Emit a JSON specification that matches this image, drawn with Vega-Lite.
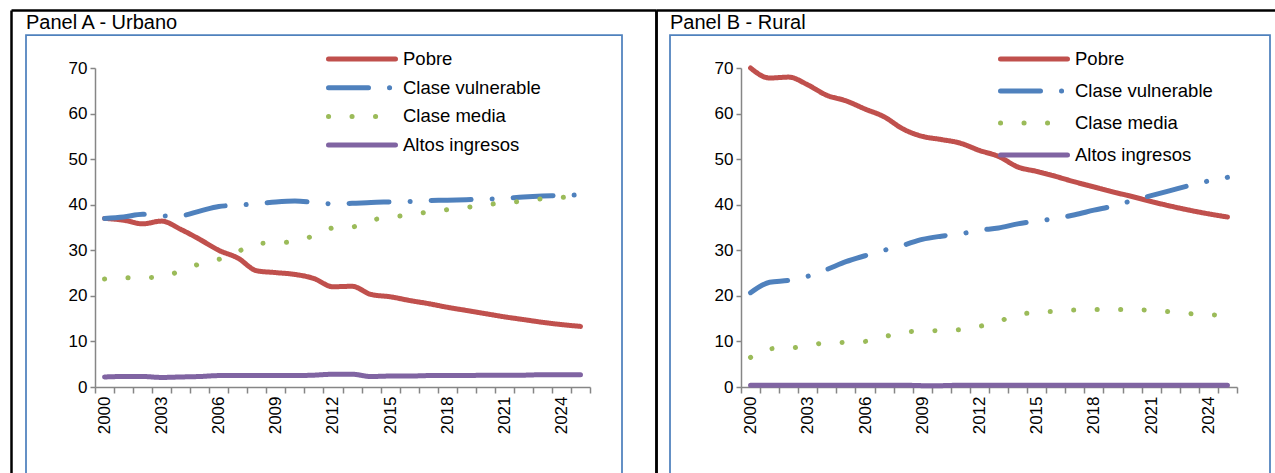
{
  "$schema": "https://vega.github.io/schema/vega-lite/v6.json",
  "background": "white",
  "padding": {"left": 8, "top": 7, "right": 0, "bottom": 0},
  "config": {
    "font": "Liberation Sans",
    "view": {"stroke": "#4F81BD", "strokeWidth": 1.75},
    "axis": {"labelFont": "Liberation Sans", "labelColor": "black", "labelFontSize": 17, "domainColor": "#868686", "tickColor": "#868686", "domainWidth": 1.5, "tickWidth": 1.5, "grid": false, "title": null},
    "legend": {"labelFont": "Liberation Sans", "labelColor": "black", "labelFontSize": 18.5, "labelLimit": 300}
  },
  "datasets": {
    "marco": [{"f": 0}, {"f": 1}],
    "urbano": [
      {"clase": "Pobre", "anio": 2000, "valor": 37.0}, {"clase": "Pobre", "anio": 2001, "valor": 36.6}, {"clase": "Pobre", "anio": 2002, "valor": 35.8}, {"clase": "Pobre", "anio": 2003, "valor": 36.4}, {"clase": "Pobre", "anio": 2004, "valor": 34.6}, {"clase": "Pobre", "anio": 2005, "valor": 32.4}, {"clase": "Pobre", "anio": 2006, "valor": 30.0}, {"clase": "Pobre", "anio": 2007, "valor": 28.3}, {"clase": "Pobre", "anio": 2008, "valor": 25.5}, {"clase": "Pobre", "anio": 2009, "valor": 25.1}, {"clase": "Pobre", "anio": 2010, "valor": 24.7}, {"clase": "Pobre", "anio": 2011, "valor": 23.8}, {"clase": "Pobre", "anio": 2012, "valor": 22.0}, {"clase": "Pobre", "anio": 2013, "valor": 22.1}, {"clase": "Pobre", "anio": 2014, "valor": 20.3}, {"clase": "Pobre", "anio": 2015, "valor": 19.8}, {"clase": "Pobre", "anio": 2016, "valor": 19.0}, {"clase": "Pobre", "anio": 2017, "valor": 18.3}, {"clase": "Pobre", "anio": 2018, "valor": 17.5}, {"clase": "Pobre", "anio": 2019, "valor": 16.8}, {"clase": "Pobre", "anio": 2020, "valor": 16.1}, {"clase": "Pobre", "anio": 2021, "valor": 15.4}, {"clase": "Pobre", "anio": 2022, "valor": 14.8}, {"clase": "Pobre", "anio": 2023, "valor": 14.2}, {"clase": "Pobre", "anio": 2024, "valor": 13.7}, {"clase": "Pobre", "anio": 2025, "valor": 13.3},
      {"clase": "Clase vulnerable", "anio": 2000, "valor": 37.0}, {"clase": "Clase vulnerable", "anio": 2001, "valor": 37.3}, {"clase": "Clase vulnerable", "anio": 2002, "valor": 37.9}, {"clase": "Clase vulnerable", "anio": 2003, "valor": 37.5}, {"clase": "Clase vulnerable", "anio": 2004, "valor": 37.6}, {"clase": "Clase vulnerable", "anio": 2005, "valor": 38.6}, {"clase": "Clase vulnerable", "anio": 2006, "valor": 39.6}, {"clase": "Clase vulnerable", "anio": 2007, "valor": 39.9}, {"clase": "Clase vulnerable", "anio": 2008, "valor": 40.2}, {"clase": "Clase vulnerable", "anio": 2009, "valor": 40.6}, {"clase": "Clase vulnerable", "anio": 2010, "valor": 40.8}, {"clase": "Clase vulnerable", "anio": 2011, "valor": 40.5}, {"clase": "Clase vulnerable", "anio": 2012, "valor": 40.2}, {"clase": "Clase vulnerable", "anio": 2013, "valor": 40.3}, {"clase": "Clase vulnerable", "anio": 2014, "valor": 40.5}, {"clase": "Clase vulnerable", "anio": 2015, "valor": 40.6}, {"clase": "Clase vulnerable", "anio": 2016, "valor": 40.7}, {"clase": "Clase vulnerable", "anio": 2017, "valor": 40.9}, {"clase": "Clase vulnerable", "anio": 2018, "valor": 41.0}, {"clase": "Clase vulnerable", "anio": 2019, "valor": 41.1}, {"clase": "Clase vulnerable", "anio": 2020, "valor": 41.2}, {"clase": "Clase vulnerable", "anio": 2021, "valor": 41.4}, {"clase": "Clase vulnerable", "anio": 2022, "valor": 41.7}, {"clase": "Clase vulnerable", "anio": 2023, "valor": 41.9}, {"clase": "Clase vulnerable", "anio": 2024, "valor": 42.0}, {"clase": "Clase vulnerable", "anio": 2025, "valor": 42.2},
      {"clase": "Clase media", "anio": 2000, "valor": 23.7}, {"clase": "Clase media", "anio": 2001, "valor": 24.0}, {"clase": "Clase media", "anio": 2002, "valor": 24.0}, {"clase": "Clase media", "anio": 2003, "valor": 24.2}, {"clase": "Clase media", "anio": 2004, "valor": 25.5}, {"clase": "Clase media", "anio": 2005, "valor": 27.0}, {"clase": "Clase media", "anio": 2006, "valor": 28.0}, {"clase": "Clase media", "anio": 2007, "valor": 29.7}, {"clase": "Clase media", "anio": 2008, "valor": 31.5}, {"clase": "Clase media", "anio": 2009, "valor": 31.6}, {"clase": "Clase media", "anio": 2010, "valor": 32.0}, {"clase": "Clase media", "anio": 2011, "valor": 33.2}, {"clase": "Clase media", "anio": 2012, "valor": 34.9}, {"clase": "Clase media", "anio": 2013, "valor": 35.1}, {"clase": "Clase media", "anio": 2014, "valor": 36.6}, {"clase": "Clase media", "anio": 2015, "valor": 37.2}, {"clase": "Clase media", "anio": 2016, "valor": 37.8}, {"clase": "Clase media", "anio": 2017, "valor": 38.4}, {"clase": "Clase media", "anio": 2018, "valor": 38.9}, {"clase": "Clase media", "anio": 2019, "valor": 39.4}, {"clase": "Clase media", "anio": 2020, "valor": 40.0}, {"clase": "Clase media", "anio": 2021, "valor": 40.4}, {"clase": "Clase media", "anio": 2022, "valor": 40.8}, {"clase": "Clase media", "anio": 2023, "valor": 41.3}, {"clase": "Clase media", "anio": 2024, "valor": 41.6}, {"clase": "Clase media", "anio": 2025, "valor": 42.0},
      {"clase": "Altos ingresos", "anio": 2000, "valor": 2.2}, {"clase": "Altos ingresos", "anio": 2001, "valor": 2.3}, {"clase": "Altos ingresos", "anio": 2002, "valor": 2.3}, {"clase": "Altos ingresos", "anio": 2003, "valor": 2.1}, {"clase": "Altos ingresos", "anio": 2004, "valor": 2.2}, {"clase": "Altos ingresos", "anio": 2005, "valor": 2.3}, {"clase": "Altos ingresos", "anio": 2006, "valor": 2.5}, {"clase": "Altos ingresos", "anio": 2007, "valor": 2.5}, {"clase": "Altos ingresos", "anio": 2008, "valor": 2.5}, {"clase": "Altos ingresos", "anio": 2009, "valor": 2.5}, {"clase": "Altos ingresos", "anio": 2010, "valor": 2.5}, {"clase": "Altos ingresos", "anio": 2011, "valor": 2.6}, {"clase": "Altos ingresos", "anio": 2012, "valor": 2.8}, {"clase": "Altos ingresos", "anio": 2013, "valor": 2.8}, {"clase": "Altos ingresos", "anio": 2014, "valor": 2.3}, {"clase": "Altos ingresos", "anio": 2015, "valor": 2.4}, {"clase": "Altos ingresos", "anio": 2016, "valor": 2.4}, {"clase": "Altos ingresos", "anio": 2017, "valor": 2.5}, {"clase": "Altos ingresos", "anio": 2018, "valor": 2.5}, {"clase": "Altos ingresos", "anio": 2019, "valor": 2.5}, {"clase": "Altos ingresos", "anio": 2020, "valor": 2.6}, {"clase": "Altos ingresos", "anio": 2021, "valor": 2.6}, {"clase": "Altos ingresos", "anio": 2022, "valor": 2.6}, {"clase": "Altos ingresos", "anio": 2023, "valor": 2.7}, {"clase": "Altos ingresos", "anio": 2024, "valor": 2.7}, {"clase": "Altos ingresos", "anio": 2025, "valor": 2.7}
    ],
    "rural": [
      {"clase": "Pobre", "anio": 2000, "valor": 71.0}, {"clase": "Pobre", "anio": 2001, "valor": 67.8}, {"clase": "Pobre", "anio": 2002, "valor": 68.0}, {"clase": "Pobre", "anio": 2003, "valor": 66.3}, {"clase": "Pobre", "anio": 2004, "valor": 64.0}, {"clase": "Pobre", "anio": 2005, "valor": 62.8}, {"clase": "Pobre", "anio": 2006, "valor": 61.0}, {"clase": "Pobre", "anio": 2007, "valor": 59.3}, {"clase": "Pobre", "anio": 2008, "valor": 56.6}, {"clase": "Pobre", "anio": 2009, "valor": 55.0}, {"clase": "Pobre", "anio": 2010, "valor": 54.3}, {"clase": "Pobre", "anio": 2011, "valor": 53.5}, {"clase": "Pobre", "anio": 2012, "valor": 51.9}, {"clase": "Pobre", "anio": 2013, "valor": 50.6}, {"clase": "Pobre", "anio": 2014, "valor": 48.3}, {"clase": "Pobre", "anio": 2015, "valor": 47.3}, {"clase": "Pobre", "anio": 2016, "valor": 46.2}, {"clase": "Pobre", "anio": 2017, "valor": 45.0}, {"clase": "Pobre", "anio": 2018, "valor": 43.9}, {"clase": "Pobre", "anio": 2019, "valor": 42.8}, {"clase": "Pobre", "anio": 2020, "valor": 41.8}, {"clase": "Pobre", "anio": 2021, "valor": 40.7}, {"clase": "Pobre", "anio": 2022, "valor": 39.7}, {"clase": "Pobre", "anio": 2023, "valor": 38.8}, {"clase": "Pobre", "anio": 2024, "valor": 38.0}, {"clase": "Pobre", "anio": 2025, "valor": 37.3},
      {"clase": "Clase vulnerable", "anio": 2000, "valor": 20.7}, {"clase": "Clase vulnerable", "anio": 2001, "valor": 23.0}, {"clase": "Clase vulnerable", "anio": 2002, "valor": 23.4}, {"clase": "Clase vulnerable", "anio": 2003, "valor": 24.3}, {"clase": "Clase vulnerable", "anio": 2004, "valor": 25.8}, {"clase": "Clase vulnerable", "anio": 2005, "valor": 27.5}, {"clase": "Clase vulnerable", "anio": 2006, "valor": 28.8}, {"clase": "Clase vulnerable", "anio": 2007, "valor": 30.0}, {"clase": "Clase vulnerable", "anio": 2008, "valor": 31.1}, {"clase": "Clase vulnerable", "anio": 2009, "valor": 32.4}, {"clase": "Clase vulnerable", "anio": 2010, "valor": 33.1}, {"clase": "Clase vulnerable", "anio": 2011, "valor": 33.6}, {"clase": "Clase vulnerable", "anio": 2012, "valor": 34.4}, {"clase": "Clase vulnerable", "anio": 2013, "valor": 34.9}, {"clase": "Clase vulnerable", "anio": 2014, "valor": 35.8}, {"clase": "Clase vulnerable", "anio": 2015, "valor": 36.4}, {"clase": "Clase vulnerable", "anio": 2016, "valor": 37.0}, {"clase": "Clase vulnerable", "anio": 2017, "valor": 37.8}, {"clase": "Clase vulnerable", "anio": 2018, "valor": 38.8}, {"clase": "Clase vulnerable", "anio": 2019, "valor": 39.7}, {"clase": "Clase vulnerable", "anio": 2020, "valor": 40.9}, {"clase": "Clase vulnerable", "anio": 2021, "valor": 42.0}, {"clase": "Clase vulnerable", "anio": 2022, "valor": 43.1}, {"clase": "Clase vulnerable", "anio": 2023, "valor": 44.2}, {"clase": "Clase vulnerable", "anio": 2024, "valor": 45.2}, {"clase": "Clase vulnerable", "anio": 2025, "valor": 46.0},
      {"clase": "Clase media", "anio": 2000, "valor": 6.5}, {"clase": "Clase media", "anio": 2001, "valor": 8.4}, {"clase": "Clase media", "anio": 2002, "valor": 8.5}, {"clase": "Clase media", "anio": 2003, "valor": 9.1}, {"clase": "Clase media", "anio": 2004, "valor": 9.7}, {"clase": "Clase media", "anio": 2005, "valor": 9.8}, {"clase": "Clase media", "anio": 2006, "valor": 10.0}, {"clase": "Clase media", "anio": 2007, "valor": 11.0}, {"clase": "Clase media", "anio": 2008, "valor": 12.0}, {"clase": "Clase media", "anio": 2009, "valor": 12.3}, {"clase": "Clase media", "anio": 2010, "valor": 12.4}, {"clase": "Clase media", "anio": 2011, "valor": 12.6}, {"clase": "Clase media", "anio": 2012, "valor": 13.3}, {"clase": "Clase media", "anio": 2013, "valor": 14.4}, {"clase": "Clase media", "anio": 2014, "valor": 15.8}, {"clase": "Clase media", "anio": 2015, "valor": 16.4}, {"clase": "Clase media", "anio": 2016, "valor": 16.6}, {"clase": "Clase media", "anio": 2017, "valor": 16.9}, {"clase": "Clase media", "anio": 2018, "valor": 17.0}, {"clase": "Clase media", "anio": 2019, "valor": 17.0}, {"clase": "Clase media", "anio": 2020, "valor": 17.0}, {"clase": "Clase media", "anio": 2021, "valor": 16.8}, {"clase": "Clase media", "anio": 2022, "valor": 16.5}, {"clase": "Clase media", "anio": 2023, "valor": 16.1}, {"clase": "Clase media", "anio": 2024, "valor": 15.9}, {"clase": "Clase media", "anio": 2025, "valor": 15.6},
      {"clase": "Altos ingresos", "anio": 2000, "valor": 0.4}, {"clase": "Altos ingresos", "anio": 2001, "valor": 0.4}, {"clase": "Altos ingresos", "anio": 2002, "valor": 0.4}, {"clase": "Altos ingresos", "anio": 2003, "valor": 0.4}, {"clase": "Altos ingresos", "anio": 2004, "valor": 0.4}, {"clase": "Altos ingresos", "anio": 2005, "valor": 0.4}, {"clase": "Altos ingresos", "anio": 2006, "valor": 0.4}, {"clase": "Altos ingresos", "anio": 2007, "valor": 0.4}, {"clase": "Altos ingresos", "anio": 2008, "valor": 0.4}, {"clase": "Altos ingresos", "anio": 2009, "valor": 0.3}, {"clase": "Altos ingresos", "anio": 2010, "valor": 0.3}, {"clase": "Altos ingresos", "anio": 2011, "valor": 0.4}, {"clase": "Altos ingresos", "anio": 2012, "valor": 0.4}, {"clase": "Altos ingresos", "anio": 2013, "valor": 0.4}, {"clase": "Altos ingresos", "anio": 2014, "valor": 0.4}, {"clase": "Altos ingresos", "anio": 2015, "valor": 0.4}, {"clase": "Altos ingresos", "anio": 2016, "valor": 0.4}, {"clase": "Altos ingresos", "anio": 2017, "valor": 0.4}, {"clase": "Altos ingresos", "anio": 2018, "valor": 0.4}, {"clase": "Altos ingresos", "anio": 2019, "valor": 0.4}, {"clase": "Altos ingresos", "anio": 2020, "valor": 0.4}, {"clase": "Altos ingresos", "anio": 2021, "valor": 0.4}, {"clase": "Altos ingresos", "anio": 2022, "valor": 0.4}, {"clase": "Altos ingresos", "anio": 2023, "valor": 0.4}, {"clase": "Altos ingresos", "anio": 2024, "valor": 0.4}, {"clase": "Altos ingresos", "anio": 2025, "valor": 0.4}
    ]
  },
  "spacing": 48,
  "bounds": "flush",
  "resolve": {
    "scale": {"x": "independent", "y": "independent"},
    "legend": {"color": "independent", "strokeDash": "independent"}
  },
  "hconcat": [
    {
      "width": 596,
      "height": 445,
      "title": {"text": "Panel A - Urbano", "anchor": "start", "frame": "group", "offset": -24, "fontSize": 20, "fontWeight": "normal", "color": "black", "font": "Liberation Sans"},
      "resolve": {"scale": {"x": "independent"}, "axis": {"x": "independent"}},
      "layer": [
        {
          "data": {"name": "marco"},
          "mark": {"type": "point", "opacity": 0, "size": 0, "strokeWidth": 0},
          "encoding": {
            "x": {"field": "f", "type": "quantitative",
              "scale": {"domain": [0, 1], "range": [-15, 630], "nice": false, "zero": false},
              "axis": {"orient": "top", "offset": 25, "values": [0, 1], "labels": false, "domainColor": "black", "domainWidth": 2.5, "tickColor": "black", "tickWidth": 2.5, "tickSize": -470}}
          }
        },
        {
          "data": {"name": "urbano"},
          "mark": {"type": "line", "strokeWidth": 5, "strokeCap": "round", "interpolate": "monotone"},
          "encoding": {
            "x": {"field": "anio", "type": "ordinal",
              "scale": {"type": "band", "paddingInner": 0, "paddingOuter": 0, "range": [69, 564]},
              "axis": {"orient": "bottom", "offset": -93, "tickBand": "extent", "labelAngle": -90, "tickSize": 6, "labelPadding": 3,
                "labelExpr": "(datum.value - 2000) % 3 == 0 ? datum.label : ''"}},
            "y": {"field": "valor", "type": "quantitative",
              "scale": {"domain": [0, 70], "range": [352, 33], "nice": false, "clamp": true},
              "axis": {"offset": -69, "values": [0, 10, 20, 30, 40, 50, 60, 70], "tickSize": 5, "labelPadding": 3}},
            "color": {"field": "clase", "type": "nominal",
              "scale": {"domain": ["Pobre", "Clase vulnerable", "Clase media", "Altos ingresos"], "range": ["#C0504D", "#4F81BD", "#9BBB59", "#8064A2"]},
              "legend": {"orient": "none", "legendX": 300, "legendY": 15, "title": null, "symbolType": "stroke", "symbolSize": 4489, "symbolStrokeWidth": 5, "labelOffset": 5, "clipHeight": 18, "rowPadding": 9.7, "padding": 0,
                "encode": {"symbols": {"update": {"strokeCap": {"value": "round"}}}}}},
            "strokeDash": {"field": "clase", "type": "nominal",
              "scale": {"domain": ["Pobre", "Clase vulnerable", "Clase media", "Altos ingresos"], "range": [[1, 0], [40, 21, 0.1, 21], [0.1, 23.4], [1, 0]]},
              "legend": {"orient": "none", "legendX": 300, "legendY": 15, "title": null, "symbolType": "stroke", "symbolSize": 4489, "symbolStrokeWidth": 5, "labelOffset": 5, "clipHeight": 18, "rowPadding": 9.7, "padding": 0,
                "encode": {"symbols": {"update": {"strokeCap": {"value": "round"}}}}}}
          }
        }
      ]
    },
    {
      "width": 600,
      "height": 445,
      "title": {"text": "Panel B - Rural", "anchor": "start", "frame": "group", "offset": -24, "fontSize": 20, "fontWeight": "normal", "color": "black", "font": "Liberation Sans"},
      "resolve": {"scale": {"x": "independent"}, "axis": {"x": "independent"}},
      "layer": [
        {
          "data": {"name": "marco"},
          "mark": {"type": "point", "opacity": 0, "size": 0, "strokeWidth": 0},
          "encoding": {
            "x": {"field": "f", "type": "quantitative",
              "scale": {"domain": [0, 1], "range": [-14, 620], "nice": false, "zero": false},
              "axis": {"orient": "top", "offset": 25, "values": [0], "labels": false, "domainColor": "black", "domainWidth": 2.5, "tickColor": "black", "tickWidth": 2.5, "tickSize": -470}}
          }
        },
        {
          "data": {"name": "rural"},
          "mark": {"type": "line", "strokeWidth": 5, "strokeCap": "round", "interpolate": "monotone"},
          "encoding": {
            "x": {"field": "anio", "type": "ordinal",
              "scale": {"type": "band", "paddingInner": 0, "paddingOuter": 0, "range": [71, 567]},
              "axis": {"orient": "bottom", "offset": -93, "tickBand": "extent", "labelAngle": -90, "tickSize": 6, "labelPadding": 3,
                "labelExpr": "(datum.value - 2000) % 3 == 0 ? datum.label : ''"}},
            "y": {"field": "valor", "type": "quantitative",
              "scale": {"domain": [0, 70], "range": [352, 33], "nice": false, "clamp": true},
              "axis": {"offset": -71, "values": [0, 10, 20, 30, 40, 50, 60, 70], "tickSize": 5, "labelPadding": 3}},
            "color": {"field": "clase", "type": "nominal",
              "scale": {"domain": ["Pobre", "Clase vulnerable", "Clase media", "Altos ingresos"], "range": ["#C0504D", "#4F81BD", "#9BBB59", "#8064A2"]},
              "legend": {"orient": "none", "legendX": 328, "legendY": 15, "title": null, "symbolType": "stroke", "symbolSize": 4489, "symbolStrokeWidth": 5, "labelOffset": 5, "clipHeight": 18, "rowPadding": 13, "padding": 0,
                "encode": {"symbols": {"update": {"strokeCap": {"value": "round"}}}}}},
            "strokeDash": {"field": "clase", "type": "nominal",
              "scale": {"domain": ["Pobre", "Clase vulnerable", "Clase media", "Altos ingresos"], "range": [[1, 0], [40, 21, 0.1, 21], [0.1, 23.4], [1, 0]]},
              "legend": {"orient": "none", "legendX": 328, "legendY": 15, "title": null, "symbolType": "stroke", "symbolSize": 4489, "symbolStrokeWidth": 5, "labelOffset": 5, "clipHeight": 18, "rowPadding": 13, "padding": 0,
                "encode": {"symbols": {"update": {"strokeCap": {"value": "round"}}}}}}
          }
        }
      ]
    }
  ]
}
